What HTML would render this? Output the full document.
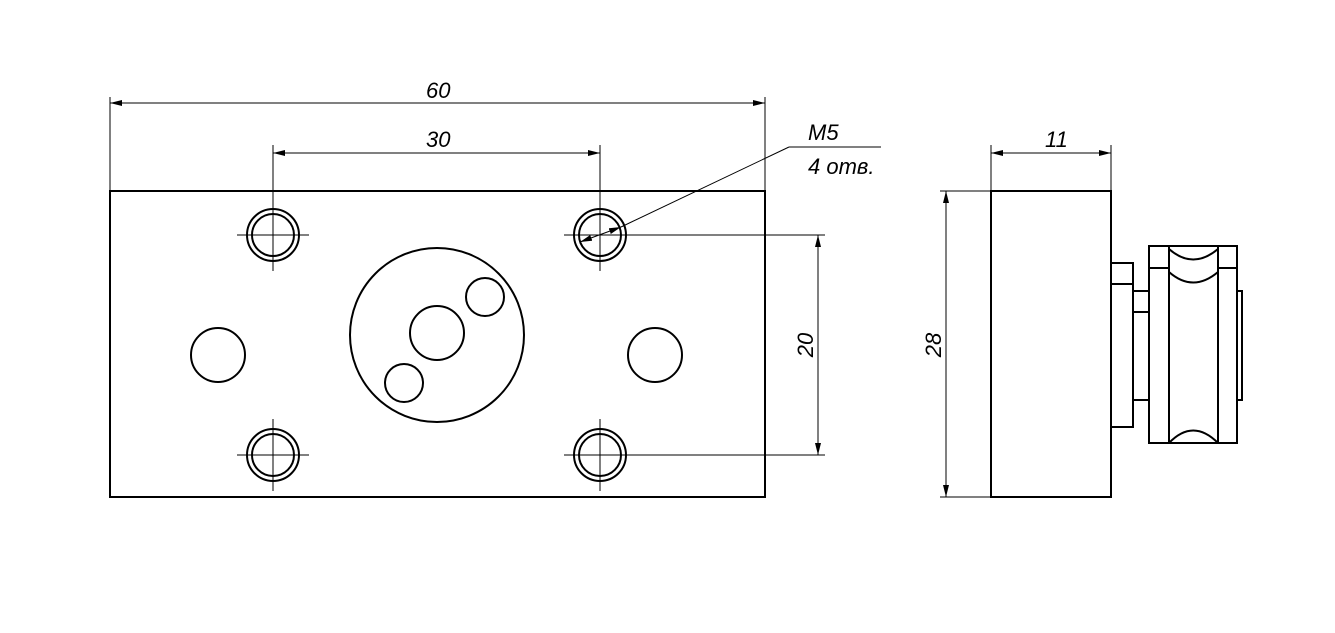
<!DOCTYPE html><html><head><style>body{margin:0;background:#fff}svg{display:block}text{font-family:"Liberation Sans",sans-serif;font-style:italic;font-size:22px;fill:#000}</style></head><body>
<svg width="1335" height="633" viewBox="0 0 1335 633">
<defs><marker id="a" viewBox="0 0 12 6" refX="12" refY="3" markerWidth="12" markerHeight="6" orient="auto-start-reverse" markerUnits="userSpaceOnUse"><path d="M0,0L12,3L0,6z"/></marker></defs>
<g fill="none" stroke="#000" stroke-width="2">
<rect x="110" y="191" width="655" height="306"/>
<circle cx="437" cy="335" r="87"/><circle cx="437" cy="333" r="27"/><circle cx="485" cy="297" r="19"/><circle cx="404" cy="383" r="19"/>
<circle cx="218" cy="355" r="27"/><circle cx="655" cy="355" r="27"/>
<g id="h"><circle cx="273" cy="235" r="26"/><circle cx="273" cy="235" r="21"/></g>
<use href="#h" x="327"/><use href="#h" y="220"/><use href="#h" x="327" y="220"/>
<rect x="991" y="191" width="120" height="306"/>
<rect x="1111" y="263" width="22" height="164"/><line x1="1111" y1="284" x2="1133" y2="284"/>
<rect x="1133" y="291" width="16" height="109"/><line x1="1133" y1="312" x2="1149" y2="312"/>
<rect x="1149" y="246" width="20" height="197"/><rect x="1218" y="246" width="19" height="197"/>
<line x1="1149" y1="268" x2="1169" y2="268"/><line x1="1218" y1="268" x2="1237" y2="268"/>
<line x1="1169" y1="246" x2="1218" y2="246"/><line x1="1169" y1="443" x2="1218" y2="443"/>
<path d="M1169,249Q1193,270 1218,249M1169,272Q1193,293 1218,272M1169,443Q1193,418 1218,443"/>
<rect x="1237" y="291" width="5" height="109"/>
</g>
<g fill="none" stroke="#000" stroke-width="1">
<g id="c"><line x1="237" y1="235" x2="309" y2="235"/><line x1="273" y1="199" x2="273" y2="271"/></g>
<use href="#c" y="220"/><line x1="564" y1="455" x2="825" y2="455"/><line x1="600" y1="419" x2="600" y2="491"/>
<line x1="564" y1="235" x2="825" y2="235"/><line x1="600" y1="145" x2="600" y2="271"/>
<line x1="273" y1="145" x2="273" y2="199"/>
<line x1="110" y1="97" x2="110" y2="191"/><line x1="765" y1="97" x2="765" y2="191"/>
<line x1="110" y1="103" x2="765" y2="103" marker-start="url(#a)" marker-end="url(#a)"/>
<line x1="273" y1="153" x2="600" y2="153" marker-start="url(#a)" marker-end="url(#a)"/>
<line x1="818" y1="235" x2="818" y2="455" marker-start="url(#a)" marker-end="url(#a)"/>
<line x1="940" y1="191" x2="991" y2="191"/><line x1="940" y1="497" x2="991" y2="497"/>
<line x1="946" y1="191" x2="946" y2="497" marker-start="url(#a)" marker-end="url(#a)"/>
<line x1="991" y1="145" x2="991" y2="191"/><line x1="1111" y1="145" x2="1111" y2="191"/>
<line x1="991" y1="153" x2="1111" y2="153" marker-start="url(#a)" marker-end="url(#a)"/>
<line x1="580" y1="242" x2="621" y2="227" marker-start="url(#a)" marker-end="url(#a)"/>
<line x1="621" y1="227" x2="789" y2="147"/><line x1="789" y1="147" x2="881" y2="147"/>
</g>
<text x="426" y="98">60</text><text x="426" y="147">30</text><text x="1045" y="147">11</text>
<text x="808" y="140">M5</text><text x="808" y="174">4 отв.</text>
<text transform="translate(813,345) rotate(-90)" text-anchor="middle" x="0" y="0">20</text>
<text transform="translate(941,345) rotate(-90)" text-anchor="middle" x="0" y="0">28</text>
</svg></body></html>
